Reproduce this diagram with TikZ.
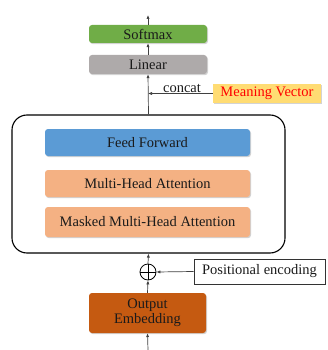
\documentclass[tikz,border=0pt]{standalone}
\usepackage{fontspec}
\setmainfont{Liberation Serif}
\usetikzlibrary{arrows.meta,shadows}
\definecolor{softgreen}{HTML}{70AD47}
\definecolor{lingray}{HTML}{AEAAAA}
\definecolor{ffblue}{HTML}{5B9BD5}
\definecolor{attnorange}{HTML}{F4B183}
\definecolor{embrust}{HTML}{C55A11}
\definecolor{mvyellow}{HTML}{FFDC73}
\definecolor{inktext}{HTML}{1A1A1A}
\begin{document}
\begin{tikzpicture}[x=1pt,y=-1pt,
  every node/.style={font=\fontsize{14.5}{15.5}\selectfont, text=inktext, inner sep=0pt},
  block/.style={rounded corners=3pt, minimum width=#1, align=center,
    drop shadow={shadow xshift=1pt, shadow yshift=-1.2pt, opacity=0.35, fill=black!50}},
  arr/.style={draw=black!75, line width=0.7pt, -{Latex[length=4pt,width=3.2pt]}},
  line/.style={draw=black!75, line width=0.7pt}]
\useasboundingbox (0,0) rectangle (327,350);

% decoder stack container
\node[draw=black, line width=1.1pt, rounded corners=15pt, minimum width=273pt,
      minimum height=138pt, fill=white] (stack) at (148.5,184) {};

% inner layers
\node[block=205pt, fill=ffblue, minimum height=27pt] (ff) at (147.5,142.5) {Feed Forward};
\node[block=205pt, fill=attnorange, minimum height=27pt] (mha) at (147.5,183.5) {Multi-Head Attention};
\node[block=205pt, fill=attnorange, minimum height=30pt] (mmha) at (147.5,222) {Masked Multi-Head Attention};

% output head
\node[block=118pt, fill=softgreen, minimum height=18pt] (soft) at (148,34) {Softmax};
\node[block=118pt, fill=lingray, minimum height=19pt] (lin) at (148,64.5) {Linear};
\node[block=108pt, fill=mvyellow, rounded corners=0pt, minimum height=19pt, text=red] (mv) at (267,93.5) {Meaning Vector};
\node (concat) at (182,88) {concat};

% input side
\node[block=117pt, fill=embrust, minimum height=40pt] (emb) at (147.5,313) {Output\\Embedding};
\node[draw=black!80, line width=0.7pt, fill=white, minimum width=131pt, minimum height=25pt] (pe) at (259.5,271.5) {Positional encoding};
\node[draw=black, line width=0.8pt, circle, minimum size=16pt,
      path picture={\draw[black, line width=0.8pt]
        (path picture bounding box.north) -- (path picture bounding box.south)
        (path picture bounding box.west) -- (path picture bounding box.east);}] (plus) at (148,272) {};

\coordinate (top) at (148,15);
\coordinate (bottom) at (148,350);
\coordinate (join) at (148,93.5);

% connectors
\draw[arr] (bottom) -- (emb.south);
\draw[arr] (emb.north) -- (plus.south);
\draw[arr] (plus.north) -- (stack.south);
\draw[arr] (pe.west) -- (plus.east);
\draw[arr] (stack.north) -- (lin.south);
\draw[arr] (mv.west) -- (join);
\draw[arr] (lin.north) -- (soft.south);
\draw[arr] (soft.north) -- (top);
\end{tikzpicture}
\end{document}
